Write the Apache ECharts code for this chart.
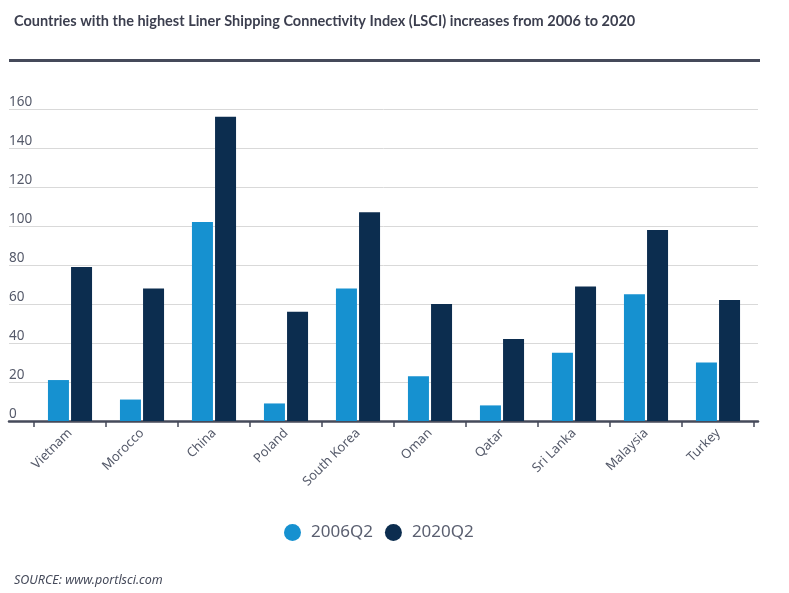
<!DOCTYPE html>
<html>
<head>
<meta charset="utf-8">
<script src="https://cdn.jsdelivr.net/npm/echarts@6/dist/echarts.min.js"></script>
<style>
  html, body { margin: 0; padding: 0; background: #fff; }
  #chart { width: 789px; height: 593px; }
</style>
</head>
<body>
<div id="chart"></div>
<script>
var countries = ['Vietnam', 'Morocco', 'China', 'Poland', 'South Korea', 'Oman', 'Qatar', 'Sri Lanka', 'Malaysia', 'Turkey'];
var lsci2006 = [21, 11, 102, 9, 68, 23, 8, 35, 65, 30];
var lsci2020 = [79, 68, 156, 56, 107, 60, 42, 69, 98, 62];
var yTicks = [0, 20, 40, 60, 80, 100, 120, 140, 160];

var axisDark = '#454a5a';
var textGrey = '#555a6a';

var chart = echarts.init(document.getElementById('chart'));
chart.setOption({
    animation: false,
    title: [{
        text: 'Countries with the highest Liner Shipping Connectivity Index (LSCI) increases from 2006 to 2020',
        left: 9, top: 9,
        textStyle: { fontFamily: 'Lato', fontWeight: 'bold', fontSize: 14.5, color: '#3c3f4f' }
    }, {
        text: 'SOURCE: www.portlsci.com',
        left: 9, top: 569,
        textStyle: { fontFamily: 'Noto Sans', fontStyle: 'italic', fontWeight: 'normal', fontSize: 12.5, color: axisDark }
    }],
    graphic: [{
        type: 'rect',
        shape: { x: 9, y: 59, width: 751, height: 3 },
        style: { fill: axisDark }
    }],
    legend: {
        data: ['2006Q2', '2020Q2'],
        left: 279, top: 519,
        icon: 'circle',
        itemWidth: 17, itemHeight: 17,
        itemGap: 12,
        textStyle: { fontFamily: 'Noto Sans', fontSize: 17, color: '#5a5f70', padding: [0, 0, 0, 5] }
    },
    grid: [
        { left: 34, right: 35, top: 109, bottom: 172 },
        { left: 9, right: 31, top: 109, bottom: 172 }
    ],
    xAxis: [{
        type: 'category',
        gridIndex: 0,
        data: countries,
        axisLine: { show: false },
        axisTick: { show: true, length: 6, lineStyle: { color: axisDark, width: 1.5 } },
        axisLabel: { rotate: 45, margin: 10, fontFamily: 'Noto Sans', fontSize: 13, color: textGrey }
    }, {
        type: 'value',
        gridIndex: 1,
        min: 0, max: 1,
        axisLine: { show: true, lineStyle: { color: axisDark, width: 2.5 } },
        axisTick: { show: false },
        axisLabel: { show: false },
        splitLine: { show: false }
    }],
    yAxis: [{
        type: 'value',
        gridIndex: 0,
        min: yTicks[0], max: yTicks[yTicks.length - 1], interval: 20,
        show: false
    }, {
        type: 'value',
        gridIndex: 1,
        min: yTicks[0], max: yTicks[yTicks.length - 1], interval: 20,
        axisLine: { show: false },
        axisTick: { show: false },
        axisLabel: {
            inside: true, margin: 0, verticalAlign: 'bottom', align: 'left',
            padding: [0, 0, 0, 0],
            fontFamily: 'Noto Sans', fontSize: 13.5, color: textGrey
        },
        splitLine: { lineStyle: { color: '#d9d9d9', width: 1 } }
    }],
    series: [{
        name: '2006Q2',
        type: 'bar',
        xAxisIndex: 0, yAxisIndex: 0,
        data: lsci2006,
        barWidth: 21,
        barGap: '10%',
        itemStyle: { color: '#1691d0' }
    }, {
        name: '2020Q2',
        type: 'bar',
        xAxisIndex: 0, yAxisIndex: 0,
        data: lsci2020,
        barWidth: 21,
        barGap: '10%',
        itemStyle: { color: '#0c2d4f' }
    }]
});
</script>
</body>
</html>
